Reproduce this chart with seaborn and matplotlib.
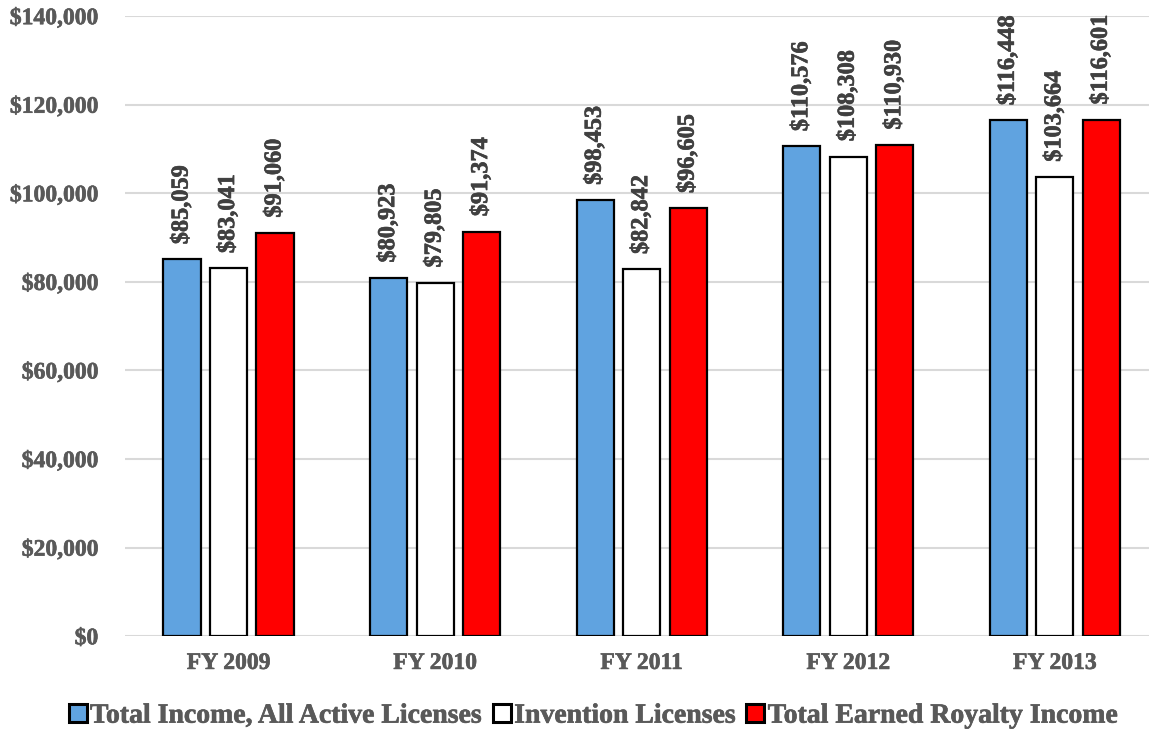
import pandas as pd
import numpy as np
import seaborn as sns
import matplotlib.pyplot as plt
import matplotlib.patheffects as pe

# data
years = ['FY 2009', 'FY 2010', 'FY 2011', 'FY 2012', 'FY 2013']
series = ['Total Income, All Active Licenses', 'Invention Licenses', 'Total Earned Royalty Income']
total_income = [85059, 80923, 98453, 110576, 116448]
invention = [83041, 79805, 82842, 108308, 103664]
royalty = [91060, 91374, 96605, 110930, 116601]

colors = {'BLUE': '#60A3E0', 'WHITE': '#FFFFFF', 'RED': '#FF0000',
          'GRID': '#D9D9D9', 'TICK': '#595959', 'LABEL': '#404040'}

df = pd.DataFrame({
    'year': years * 3,
    'series': [series[0]] * 5 + [series[1]] * 5 + [series[2]] * 5,
    'value': total_income + invention + royalty,
})

sns.set_style('white')
plt.rcParams['font.family'] = 'serif'
plt.rcParams['font.serif'] = ['Liberation Serif']
plt.rcParams['font.weight'] = 'bold'
font = {'family': 'Liberation Serif', 'weight': 'bold'}


def heavy(color):
    # thicken the glyphs a little, the original font renders heavier
    return [pe.withStroke(linewidth=0.45, foreground=color)]


fig = plt.figure(figsize=(11.49, 7.33), dpi=100)
ax = fig.add_axes([0.109, 0.132, 0.891, 0.846])

ax = sns.barplot(data=df, x='year', y='value', hue='series', ax=ax,
                 palette=[colors['BLUE'], colors['WHITE'], colors['RED']],
                 width=0.675, gap=0.2, edgecolor='black', linewidth=1.6,
                 saturation=1)

for c in ax.containers:
    ax.bar_label(c, labels=['${:,.0f}'.format(v) for v in c.datavalues],
                 rotation=90, padding=11, fontsize=17.5, family='Liberation Serif',
                 fontweight='bold', color=colors['LABEL'],
                 path_effects=heavy(colors['LABEL']))

ax.set_ylim(0, 140000)
ax.set_xlim(-0.5, 4.456)
ticks = np.arange(0, 140001, 20000)
ax.set_yticks(ticks)
ax.set_yticklabels(['${:,.0f}'.format(v) for v in ticks], fontdict=font)
ax.set_xticks(range(len(years)))
ax.set_xticklabels(years, fontdict=font)
ax.yaxis.grid(True, color=colors['GRID'], linewidth=1.5)
ax.set_axisbelow(True)
ax.tick_params(axis='both', length=0, labelsize=17, labelcolor=colors['TICK'])
ax.tick_params(axis='y', pad=19.5)
ax.tick_params(axis='x', pad=12)
for lbl in ax.get_xticklabels() + ax.get_yticklabels():
    lbl.set_path_effects(heavy(colors['TICK']))
ax.set_xlabel('')
ax.set_ylabel('')

# remove chart border
for spine in ax.spines.values():
    spine.set_visible(False)

handles, labels = ax.get_legend_handles_labels()
ax.legend_.remove()
leg = fig.legend(handles, labels, loc='center', bbox_to_anchor=(0.516, 0.023),
                 ncol=3, frameon=False, handlelength=0.65,
                 handleheight=0.65, handletextpad=0.12, columnspacing=0.4,
                 prop={'family': 'Liberation Serif', 'weight': 'bold', 'size': 20})
for t in leg.get_texts():
    t.set_color(colors['TICK'])
    t.set_path_effects(heavy(colors['TICK']))
for h in leg.legend_handles:
    h.set_linewidth(2.2)

fig.savefig('out.png', dpi=100)
